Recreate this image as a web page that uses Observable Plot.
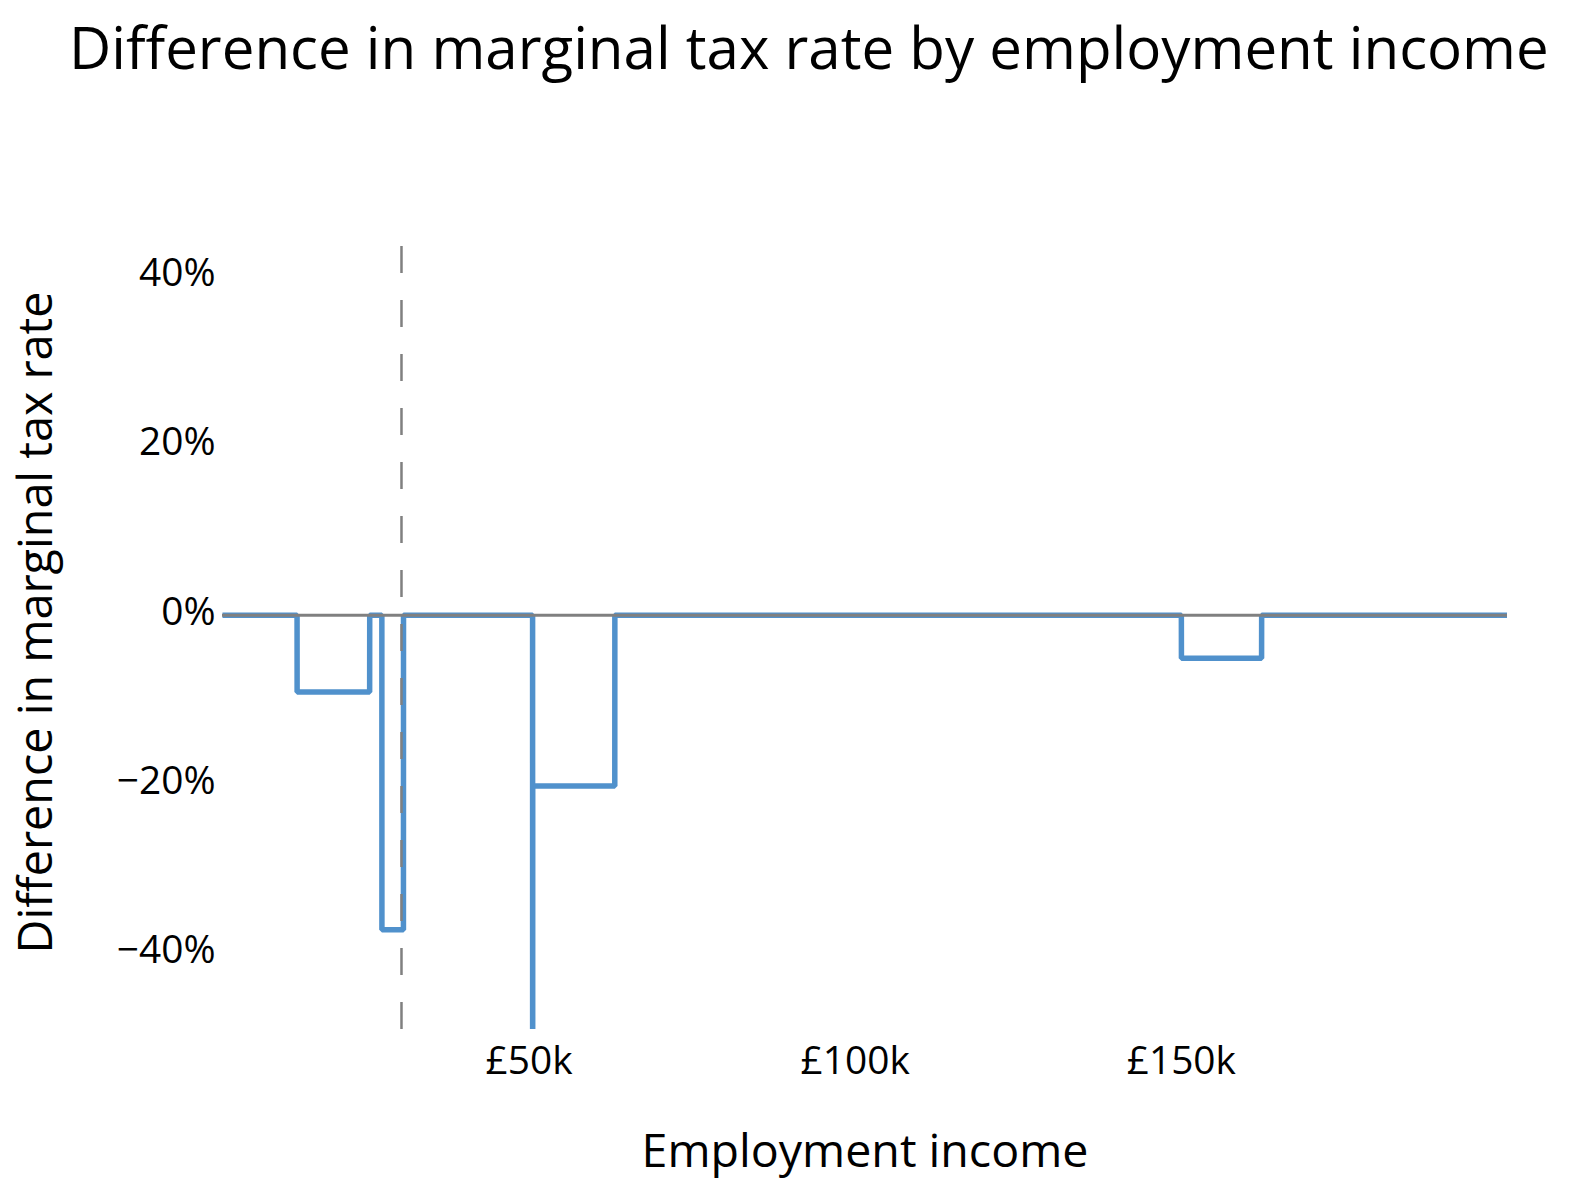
<!DOCTYPE html>
<html>
<head>
<meta charset="utf-8">
<script src="https://cdn.jsdelivr.net/npm/d3@7"></script>
<script src="https://cdn.jsdelivr.net/npm/@observablehq/plot@0.6"></script>
<style>
  html, body { margin: 0; padding: 0; background: #fff; }
  #wrap { width: 1578px; }
  #title { position: relative; height: 110px; }
  #title span { position: absolute; white-space: nowrap; color: #000; line-height: 1; }
</style>
</head>
<body>
<div id="wrap">
  <div id="title"><span id="titleText">Difference in marginal tax rate by employment income</span></div>
  <div id="chart"></div>
</div>
<script>
// ---- data ----
const income = [3000, 14430, 14440, 25560, 25570, 27430, 27440, 30740, 30750, 50540, 50550, 50560, 63140, 63150, 150000, 150010, 162300, 162310, 200000];
const mtrDifference = [0, 0, -9.1, -9.1, 0, 0, -37.2, -37.2, 0, 0, -100, -20.2, -20.2, 0, 0, -5.1, -5.1, 0, 0];
const xTicks = [50000, 100000, 150000];
const yTicks = [-40, -20, 0, 20, 40];
const markerIncome = [30440];   // dashed vertical marker
const zeroLine = [0];
const titleText = "Difference in marginal tax rate by employment income";
const xTitle = "Employment income";
const yTitle = "Difference in marginal tax rate";

const rows = income.map((x, i) => ({income: x, diff: mtrDifference[i]}));

// ---- fonts: size text to match reference widths ----
const FONT = "Open Sans";
const ctx = document.createElement("canvas").getContext("2d");
function sizeFor(text, width) {
  ctx.font = `100px "${FONT}"`;
  return 100 * width / ctx.measureText(text).width;
}
const titleSize = sizeFor(titleText, 1480);
const yTitleSize = sizeFor(yTitle, 662);
const xTitleSize = sizeFor(xTitle, 447);
const tickSize = (sizeFor("£50k", 84) + sizeFor("£150k", 113)) / 2;

// title placement (baseline at y=70)
const tEl = document.getElementById("titleText");
tEl.style.fontFamily = `"${FONT}"`;
tEl.style.fontSize = titleSize + "px";
ctx.font = `${titleSize}px "${FONT}"`;
const m = ctx.measureText(titleText);
const asc = m.fontBoundingBoxAscent, desc = m.fontBoundingBoxDescent;
const baseOff = (titleSize - (asc + desc)) / 2 + asc;
tEl.style.top = (70 - baseOff) + "px";
tEl.style.left = "69px";

// ---- chart ----
const svgTop = 110;
const H = 1192 - svgTop;
const plotTop = 246, plotBottom = 1029;
const marginTop = plotTop - svgTop;
const marginBottom = 1192 - plotBottom;

const chart = Plot.plot({
  width: 1578,
  height: H,
  marginLeft: 222,
  marginRight: 71,
  marginTop,
  marginBottom,
  style: {fontFamily: `"${FONT}"`, background: "#fff", color: "#000"},
  x: {domain: [3000, 200000]},
  y: {domain: [-49, 43.6]},
  marks: [
    Plot.line(rows, {x: "income", y: "diff", stroke: "#5091CC", strokeWidth: 5.5, clip: true, strokeLinejoin: "miter", strokeLinecap: "butt"}),
    Plot.ruleY(zeroLine, {stroke: "#808080", strokeWidth: 3}),
    Plot.ruleX(markerIncome, {stroke: "#808080", strokeWidth: 2.5, strokeDasharray: "27,27"}),
    Plot.axisX({ticks: xTicks, tickSize: 0, tickPadding: 1073 - 0.71 * tickSize - plotBottom, fontSize: tickSize, tickFormat: d => "£" + d / 1000 + "k", label: null}),
    Plot.axisY({ticks: yTicks, tickSize: 0, tickPadding: 7, fontSize: tickSize, dy: -3, tickFormat: d => (d < 0 ? "\u2212" : "") + Math.abs(d) + "%", label: null}),
    Plot.text([xTitle], {text: d => d, frameAnchor: "bottom", lineAnchor: "top", textAnchor: "middle", fontSize: xTitleSize, dy: 1166 - 0.71 * xTitleSize - plotBottom}),
    Plot.text([yTitle], {text: d => d, frameAnchor: "left", rotate: -90, lineAnchor: "top", textAnchor: "middle", fontSize: yTitleSize, dx: (51 - 0.71 * yTitleSize) - 222, dy: 622 - (plotTop + plotBottom) / 2})
  ]
});
document.getElementById("chart").appendChild(chart);
</script>
</body>
</html>
